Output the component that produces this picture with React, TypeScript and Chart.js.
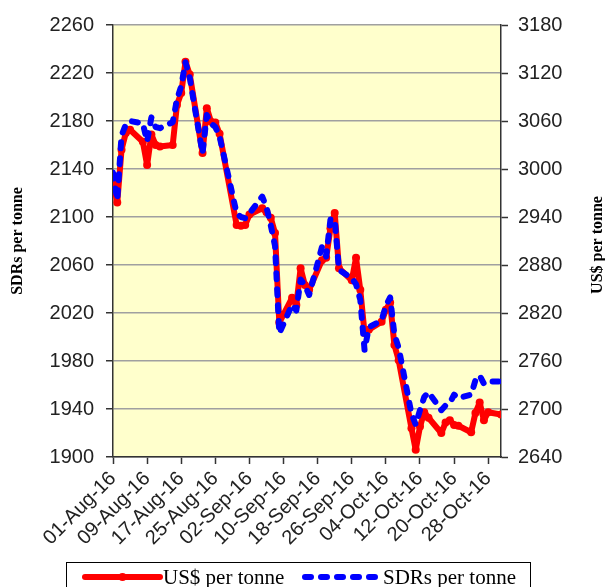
import { useEffect, useRef } from "react";
import { Chart, registerables } from "chart.js";

Chart.register(...registerables);

// ---- data ----
const tradingDates = [
  "2016-08-01", "2016-08-02", "2016-08-03", "2016-08-04", "2016-08-05",
  "2016-08-08", "2016-08-09", "2016-08-10", "2016-08-11", "2016-08-12",
  "2016-08-15", "2016-08-16", "2016-08-17", "2016-08-18", "2016-08-19",
  "2016-08-22", "2016-08-23", "2016-08-24", "2016-08-25", "2016-08-26",
  "2016-08-30", "2016-08-31",
  "2016-09-01", "2016-09-02",
  "2016-09-05", "2016-09-06", "2016-09-07", "2016-09-08", "2016-09-09",
  "2016-09-12", "2016-09-13", "2016-09-14", "2016-09-15", "2016-09-16",
  "2016-09-19", "2016-09-20", "2016-09-21", "2016-09-22", "2016-09-23",
  "2016-09-26", "2016-09-27", "2016-09-28", "2016-09-29", "2016-09-30",
  "2016-10-03", "2016-10-04", "2016-10-05", "2016-10-06", "2016-10-07",
  "2016-10-10", "2016-10-11", "2016-10-12", "2016-10-13", "2016-10-14",
  "2016-10-17", "2016-10-18", "2016-10-19", "2016-10-20", "2016-10-21",
  "2016-10-24", "2016-10-25", "2016-10-26", "2016-10-27", "2016-10-28",
  "2016-10-31",
];

const usdPerTonne = [
  2985, 2958, 3024, 3045, 3049,
  3034, 3005, 3043, 3030, 3028,
  3030, 3080, 3095, 3134, 3118,
  3020, 3076, 3059, 3058, 3044,
  2930, 2929,
  2930, 2943,
  2951, 2946, 2939, 2920, 2808,
  2839, 2830, 2876, 2855, 2849,
  2886, 2889, 2926, 2945, 2876,
  2861, 2889, 2849, 2795, 2799,
  2809, 2824, 2833, 2780, 2761,
  2676, 2649, 2678, 2696, 2689,
  2670, 2683, 2686, 2680, 2679,
  2671, 2695, 2708, 2686, 2696,
  2693,
];

const sdrPerTonne = [
  2137, 2114, 2168, 2177, 2180,
  2178, 2163, 2183, 2175, 2174,
  2179, 2198, 2209, 2229, 2216,
  2153, 2185, 2178, 2175, 2167,
  2103, 2100,
  2099, 2103,
  2117, 2108, 2093, 2076, 2003,
  2027, 2022, 2048, 2043, 2035,
  2075, 2067, 2098, 2098, 2056,
  2049, 2044, 2031, 1989, 2008,
  2014, 2026, 2033, 2002, 1991,
  1936, 1927, 1939, 1950, 1954,
  1939, 1943, 1945, 1952, 1949,
  1952, 1964, 1968, 1961, 1963,
  1963,
];

const dateTickLabels = [
  "01-Aug-16", "09-Aug-16", "17-Aug-16", "25-Aug-16", "02-Sep-16", "10-Sep-16",
  "18-Sep-16", "26-Sep-16", "04-Oct-16", "12-Oct-16", "20-Oct-16", "28-Oct-16",
];

const sdrAxis = { min: 1900, max: 2260, step: 40 };
const usdAxis = { min: 2640, max: 3180, step: 60 };

const usdLabel = "US$ per tonne";
const sdrLabel = "SDRs per tonne";

// ---- helpers ----
const DAY_MS = 86400000;
const MONTHS: Record<string, number> = {
  Jan: 0, Feb: 1, Mar: 2, Apr: 3, May: 4, Jun: 5, Jul: 6, Aug: 7, Sep: 8, Oct: 9, Nov: 10, Dec: 11,
};
function isoToUtc(s: string) {
  const [y, m, d] = s.split("-").map(Number);
  return Date.UTC(y, m - 1, d);
}
const originUtc = isoToUtc(tradingDates[0]);
const isoToDay = (s: string) => Math.round((isoToUtc(s) - originUtc) / DAY_MS);
function labelToDay(l: string) {
  const [d, mon, yy] = l.split("-");
  return Math.round((Date.UTC(2000 + Number(yy), MONTHS[mon], Number(d)) - originUtc) / DAY_MS);
}
const tickDays = dateTickLabels.map(labelToDay);
const dayIndex = tradingDates.map(isoToDay);
const lastDay = dayIndex[dayIndex.length - 1];

const tickFont = { family: "'Liberation Sans', Arial, sans-serif", size: 20 };
const serif = "'Liberation Serif', 'Times New Roman', serif";

const plotBackground = {
  id: "plotBackground",
  beforeDraw(chart: any) {
    const { ctx, chartArea } = chart;
    ctx.save();
    ctx.fillStyle = "#FFFFCC";
    ctx.fillRect(chartArea.left, chartArea.top, chartArea.right - chartArea.left, chartArea.bottom - chartArea.top);
    ctx.restore();
  },
};

const extras = {
  id: "extras",
  afterDraw(chart: any) {
    const { ctx, chartArea } = chart;
    const ds = chart.data.datasets;
    ctx.save();
    // right axis title, reading bottom-to-top
    ctx.translate(598, (chartArea.top + chartArea.bottom) / 2 + 4);
    ctx.rotate(-Math.PI / 2);
    ctx.font = `bold 16px ${serif}`;
    ctx.fillStyle = "#000";
    ctx.textAlign = "center";
    ctx.textBaseline = "middle";
    ctx.fillText(usdLabel, 0, 0);
    ctx.restore();

    // legend box
    ctx.save();
    ctx.strokeStyle = "#000";
    ctx.lineWidth = 1;
    ctx.strokeRect(66.5, 562.5, 464, 40);
    const y = 577;
    const items = [
      { ds: ds[0], x0: 85, x1: 160, tx: 163 },
      { ds: ds[1], x0: 305, x1: 380, tx: 383 },
    ];
    for (const it of items) {
      ctx.save();
      ctx.strokeStyle = it.ds.borderColor;
      ctx.lineWidth = 6;
      ctx.lineCap = "round";
      ctx.setLineDash(it.ds.borderDash || []);
      ctx.beginPath();
      ctx.moveTo(it.x0, y);
      ctx.lineTo(it.x1, y);
      ctx.stroke();
      ctx.restore();
      if (it.ds.pointRadius > 0) {
        ctx.fillStyle = it.ds.borderColor;
        ctx.beginPath();
        ctx.arc((it.x0 + it.x1) / 2, y, 4, 0, Math.PI * 2);
        ctx.fill();
      }
      ctx.fillStyle = "#000";
      ctx.font = `21px ${serif}`;
      ctx.textAlign = "left";
      ctx.textBaseline = "middle";
      ctx.fillText(it.ds.label, it.tx, y + 1);
    }
    ctx.restore();
  },
};

export default function App() {
  const canvasRef = useRef<HTMLCanvasElement | null>(null);

  useEffect(() => {
    if (!canvasRef.current) return;
    const chart = new Chart(canvasRef.current, {
      type: "line",
      data: {
        datasets: [
          {
            label: usdLabel,
            data: dayIndex.map((x, i) => ({ x, y: usdPerTonne[i] })),
            yAxisID: "yUsd",
            borderColor: "#FF0000",
            backgroundColor: "#FF0000",
            borderWidth: 6,
            borderJoinStyle: "round",
            borderCapStyle: "round",
            pointRadius: 4,
            pointBorderWidth: 0,
            pointBackgroundColor: "#FF0000",
            tension: 0,
            order: 1,
          } as any,
          {
            label: sdrLabel,
            data: dayIndex.map((x, i) => ({ x, y: sdrPerTonne[i] })),
            yAxisID: "ySdr",
            borderColor: "#0000FF",
            backgroundColor: "#0000FF",
            borderWidth: 6,
            borderDash: [6, 10],
            borderCapStyle: "round",
            borderJoinStyle: "round",
            pointRadius: 0,
            tension: 0,
            order: 0,
          } as any,
        ],
      },
      options: {
        animation: false,
        responsive: true,
        maintainAspectRatio: false,
        layout: { padding: { top: 25, left: 0, right: 0, bottom: 0 } },
        plugins: { legend: { display: false }, tooltip: { enabled: false } },
        scales: {
          x: {
            type: "linear",
            min: 0,
            max: lastDay,
            afterBuildTicks: (s: any) => {
              s.ticks = tickDays.map((v) => ({ value: v }));
            },
            afterFit: (s: any) => {
              s.height = 130;
            },
            ticks: {
              autoSkip: false,
              minRotation: 45,
              maxRotation: 45,
              padding: 3,
              color: "#222",
              font: tickFont,
              callback: (_v: any, i: number) => dateTickLabels[i],
            },
            grid: { drawOnChartArea: false, drawTicks: true, tickLength: 7, tickColor: "#333", tickWidth: 1.5 },
            border: { display: true, color: "#333", width: 1.5 },
          },
          ySdr: {
            type: "linear",
            position: "left",
            min: sdrAxis.min,
            max: sdrAxis.max,
            afterFit: (s: any) => {
              s.width = 113;
            },
            ticks: {
              stepSize: sdrAxis.step,
              padding: 12,
              color: "#222",
              font: tickFont,
              callback: (v: any) => String(v),
            },
            grid: { color: "#A0A0A0", lineWidth: 1.5, tickColor: "#333", tickLength: 7, tickWidth: 1.5 },
            border: { display: true, color: "#333", width: 1.5 },
            title: {
              display: true,
              text: sdrLabel,
              color: "#000",
              font: { family: serif, size: 16, weight: "bold" },
              padding: { top: 8, bottom: 0 },
            },
          },
          yUsd: {
            type: "linear",
            position: "right",
            min: usdAxis.min,
            max: usdAxis.max,
            afterFit: (s: any) => {
              s.width = 104;
            },
            ticks: {
              stepSize: usdAxis.step,
              padding: 10,
              color: "#222",
              font: tickFont,
              callback: (v: any) => String(v),
            },
            grid: { drawOnChartArea: false, tickColor: "#333", tickLength: 7, tickWidth: 1.5 },
            border: { display: true, color: "#333", width: 1.5 },
          },
        },
      } as any,
      plugins: [plotBackground, extras],
    });
    return () => chart.destroy();
  }, []);

  return (
    <div style={{ position: "absolute", left: 0, top: 0, width: 605, height: 587 }}>
      <canvas ref={canvasRef} />
    </div>
  );
}
